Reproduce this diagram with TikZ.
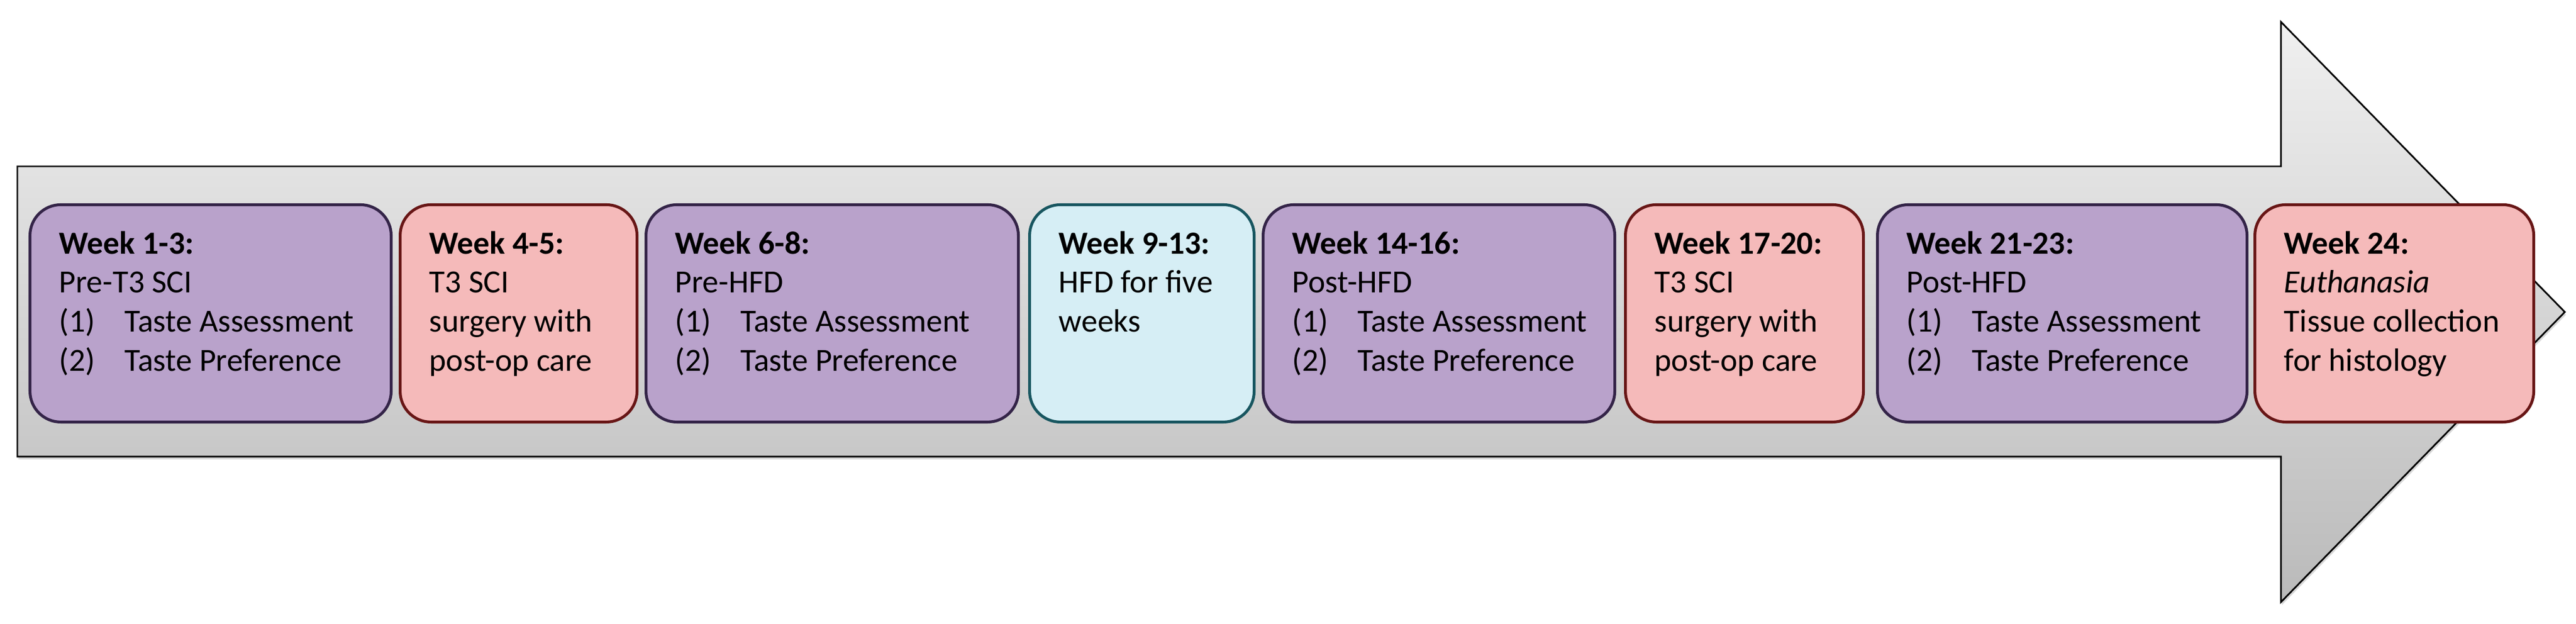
\documentclass[tikz,border=0pt]{standalone}
\usepackage{fontspec}
\setmainfont{Carlito}
\usetikzlibrary{calc,positioning,shadows}

\definecolor{purpfill}{RGB}{185,162,203}
\definecolor{purpline}{RGB}{52,36,72}
\definecolor{pinkfill}{RGB}{245,186,186}
\definecolor{pinkline}{RGB}{104,22,22}
\definecolor{bluefill}{RGB}{214,238,245}
\definecolor{blueline}{RGB}{24,86,96}

\begin{document}
\begin{tikzpicture}[
timeline/.style={
	draw=black,
	line width=0.85pt,
	top color=black!6,
	bottom color=black!27,
	drop shadow={shadow xshift=0.02cm,shadow yshift=-0.05cm,opacity=0.3}
},
phase/.style={
	rectangle,
	rounded corners=0.55cm,
	line width=1.45pt,
	inner sep=0pt,
	minimum height=3.88cm,
	anchor=south west,
	fill=#1fill,
	draw=#1line
},
txt/.style={
	anchor=north west,
	inner sep=0pt,
	align=left,
	font=\fontsize{16.4pt}{19.9pt}\selectfont
}
]
\useasboundingbox (0,0) rectangle (46,11.13);

% big arrow
\draw[timeline] (0.31,2.98) -- (0.31,8.16) -- (40.73,8.16) -- (40.73,10.74)
	-- (45.80,5.56) -- (40.73,0.38) -- (40.73,2.98) -- cycle;

% phase boxes
\foreach \n/\x/\w/\col in {1/0.51/6.45/purp,2/7.12/4.23/pink,3/11.51/6.65/purp,
	4/18.36/4.01/blue,5/22.53/6.28/purp,6/29.00/4.25/pink,7/33.50/6.60/purp,8/40.24/4.98/pink}
\node[phase=\col,minimum width=\w cm] (b\n) at (\x,3.57) {};

\newcommand{\itm}[1]{\makebox[1.17cm][l]{(#1)}}

\node[txt] (t1) at ($(b1.north west)+(0.54,-0.49)$)
	{\textbf{Week 1-3:}\\Pre-T3 SCI\\\itm{1}Taste Assessment\\\itm{2}Taste Preference};
\node[txt] (t2) at ($(b2.north west)+(0.54,-0.49)$)
	{\textbf{Week 4-5:}\\T3 SCI\\surgery with\\post-op care};
\node[txt] (t3) at ($(b3.north west)+(0.54,-0.49)$)
	{\textbf{Week 6-8:}\\Pre-HFD\\\itm{1}Taste Assessment\\\itm{2}Taste Preference};
\node[txt] (t4) at ($(b4.north west)+(0.54,-0.49)$)
	{\textbf{Week 9-13:}\\HFD for five\\weeks};
\node[txt] (t5) at ($(b5.north west)+(0.54,-0.49)$)
	{\textbf{Week 14-16:}\\Post-HFD\\\itm{1}Taste Assessment\\\itm{2}Taste Preference};
\node[txt] (t6) at ($(b6.north west)+(0.54,-0.49)$)
	{\textbf{Week 17-20:}\\T3 SCI\\surgery with\\post-op care};
\node[txt] (t7) at ($(b7.north west)+(0.54,-0.49)$)
	{\textbf{Week 21-23:}\\Post-HFD\\\itm{1}Taste Assessment\\\itm{2}Taste Preference};
\node[txt] (t8) at ($(b8.north west)+(0.54,-0.49)$)
	{\textbf{Week 24:}\\\textit{Euthanasia}\\Tissue collection\\for histology};
\end{tikzpicture}
\end{document}
